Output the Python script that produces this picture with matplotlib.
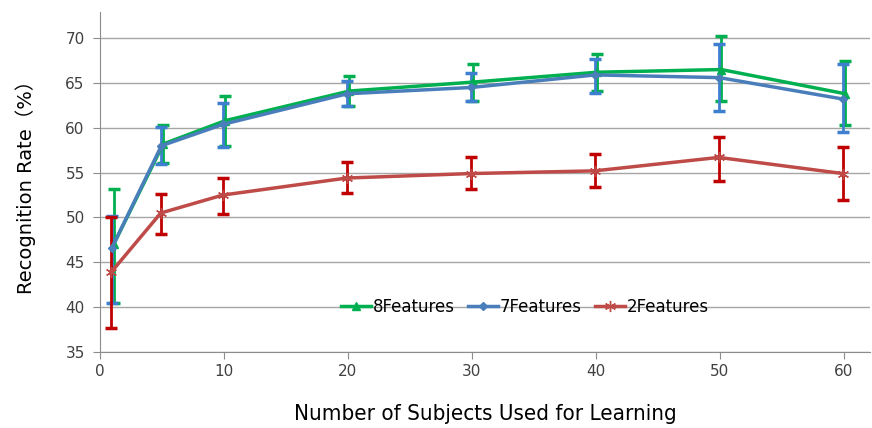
#!/usr/bin/env python3
# -*- coding: utf8 -*-

import numpy as np
import matplotlib
matplotlib.use('Agg')
import matplotlib.pyplot as plt

# Number of subjects used for learning
subjects = [1, 5, 10, 20, 30, 40, 50, 60]

# Recognition rate (%), lower / upper ends of the error bars
rate_8 = [47.0, 58.2, 60.8, 64.1, 65.1, 66.2, 66.5, 63.8]
low_8 = [40.5, 56.1, 58.0, 62.4, 63.0, 64.1, 63.0, 60.3]
high_8 = [53.2, 60.3, 63.6, 65.8, 67.1, 68.2, 70.2, 67.4]

rate_7 = [46.6, 58.0, 60.4, 63.8, 64.5, 65.9, 65.6, 63.2]
low_7 = [40.5, 56.0, 57.9, 62.4, 63.0, 63.9, 61.9, 59.5]
high_7 = [50.2, 60.1, 62.8, 65.2, 66.1, 67.7, 69.3, 67.1]

rate_2 = [43.9, 50.5, 52.5, 54.4, 54.9, 55.2, 56.7, 54.9]
low_2 = [37.7, 48.2, 50.4, 52.7, 53.2, 53.4, 54.1, 52.0]
high_2 = [50.1, 52.6, 54.4, 56.2, 56.7, 57.1, 59.0, 57.9]

labels = ['8Features', '7Features', '2Features']
tick_color = '#404040'
grid_color = '#a6a6a6'

plt.rcParams['font.family'] = ['DejaVu Sans', 'Noto Sans CJK JP']

fig = plt.figure(figsize=(8.72, 4.28), dpi=100)
ax = fig.add_axes([0.1147, 0.1776, 0.883, 0.794])


def draw(rate, low, high, line_color, bar_color, marker, label, offset, msize):
  x = np.array(subjects, dtype=float) + offset
  rate = np.array(rate)
  yerr = [rate - np.array(low), np.array(high) - rate]
  ax.errorbar(x, rate, yerr=yerr, fmt='none', ecolor=bar_color,
              elinewidth=2, capsize=4.5, capthick=2.5, zorder=3)
  ax.plot(x, rate, color=line_color, linewidth=2.5, marker=marker,
          markersize=msize, label=label, zorder=4)


draw(rate_8, low_8, high_8, '#00b050', '#00b050', '^', labels[0], 0.1, 6)
draw(rate_7, low_7, high_7, '#4a7ebb', '#3f7fd0', 'D', labels[1], -0.05, 4.5)
draw(rate_2, low_2, high_2, '#be4b48', '#c00000', (6, 2, 0), labels[2], -0.1, 8)

ax.set_xlim(0, 62.1)
ax.set_ylim(35, 72.9)
ax.set_xticks(range(0, 61, 10))
ax.set_yticks(range(35, 71, 5))
ax.yaxis.grid(True, color=grid_color, linewidth=1)
ax.set_axisbelow(True)

for side in ['top', 'right']:
  ax.spines[side].set_visible(False)
for side in ['left', 'bottom']:
  ax.spines[side].set_color('#8c8c8c')
ax.tick_params(axis='both', colors='#8c8c8c', length=5, labelcolor=tick_color,
               labelsize=11)
ax.tick_params(axis='x', pad=4)
ax.tick_params(axis='y', pad=6)

ax.set_ylabel('Recognition Rate（%）', fontsize=14, labelpad=21)
ax.set_xlabel('Number of Subjects Used for Learning', fontsize=16,
              labelpad=18, fontstretch='condensed')

ax.legend(loc='center', bbox_to_anchor=(0.552, 0.132), ncol=3, frameon=False,
          fontsize=12, handlelength=1.8, handletextpad=0.1, columnspacing=0.8)

fig.savefig('out.png', dpi=100)
